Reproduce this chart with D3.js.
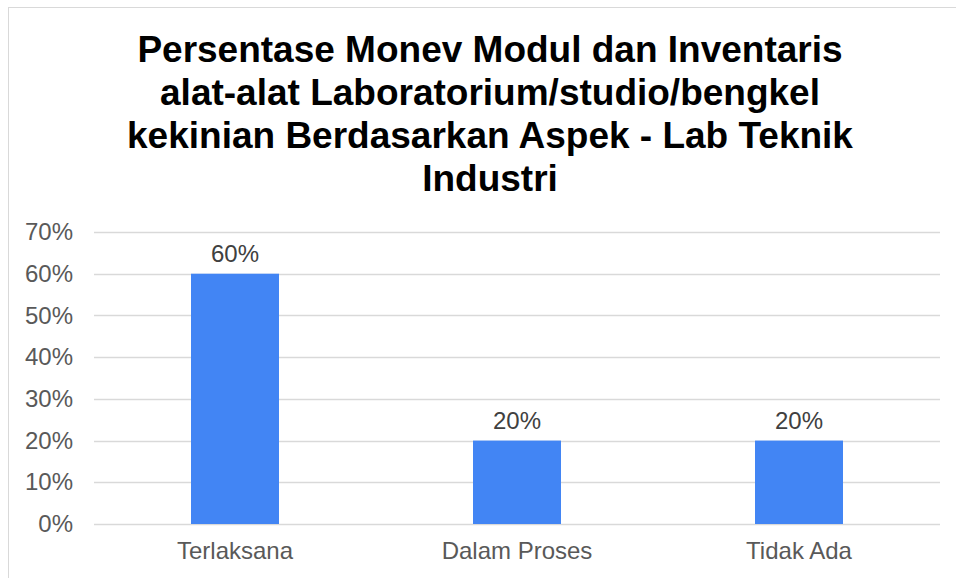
<!DOCTYPE html>
<html>
<head>
<meta charset="utf-8">
<script src="https://cdn.jsdelivr.net/npm/d3@7"></script>
<style>
  body { margin: 0; background: #fff; }
  svg { display: block; font-family: "Liberation Sans", Arial, sans-serif; }
</style>
</head>
<body>
<div id="chart"></div>
<script>
// Data
const categories = ["Terlaksana", "Dalam Proses", "Tidak Ada"];
const values = [0.6, 0.2, 0.2];
const yTicks = [0, 0.1, 0.2, 0.3, 0.4, 0.5, 0.6, 0.7];
const titleLines = [
    "Persentase Monev Modul dan Inventaris",
    "alat-alat Laboratorium/studio/bengkel",
    "kekinian Berdasarkan Aspek - Lab Teknik",
    "Industri"
];

const width = 956, height = 578;
const plot = { left: 94, right: 940, top: 232, bottom: 524 };

const svg = d3.select("#chart").append("svg")
    .attr("width", width)
    .attr("height", height);

// Chart frame (runs off the right/bottom edge)
svg.append("rect")
    .attr("x", 8.5).attr("y", 7.5)
    .attr("width", 1000).attr("height", 1000)
    .attr("fill", "none")
    .attr("stroke", "#d9d9d9")
    .attr("stroke-width", 1);

// Title
svg.append("text")
    .attr("text-anchor", "middle")
    .attr("font-size", "37px")
    .attr("font-weight", "bold")
    .attr("fill", "#000")
    .selectAll("tspan")
    .data(titleLines)
    .enter()
    .append("tspan")
    .attr("x", 490)
    .attr("y", (d, i) => 62 + i * 43)
    .text(d => d);

// Scales
const x = d3.scaleBand()
    .domain(categories)
    .range([plot.left, plot.right])
    .paddingInner(0.688)
    .paddingOuter(0.344);

const y = d3.scaleLinear()
    .domain([0, 0.7])
    .range([plot.bottom, plot.top]);

// Gridlines
svg.append("g")
    .selectAll("line")
    .data(yTicks)
    .enter()
    .append("line")
    .attr("x1", plot.left)
    .attr("x2", plot.right)
    .attr("y1", d => Math.round(y(d)) + 0.5)
    .attr("y2", d => Math.round(y(d)) + 0.5)
    .attr("stroke", "#d9d9d9")
    .attr("stroke-width", 1.5);

// Y axis labels
const yAxis = svg.append("g")
    .attr("transform", `translate(${plot.left - 21},0)`)
    .call(d3.axisLeft(y).tickValues(yTicks).tickFormat(d3.format(".0%")).tickSize(0).tickPadding(0));
yAxis.select(".domain").remove();
yAxis.selectAll("text")
    .attr("font-family", "Liberation Sans, Arial, sans-serif")
    .attr("font-size", "24px")
    .attr("fill", "#595959");

// X axis labels
const xAxis = svg.append("g")
    .attr("transform", `translate(0,${plot.bottom})`)
    .call(d3.axisBottom(x).tickSize(0).tickPadding(18));
xAxis.select(".domain").remove();
xAxis.selectAll("text")
    .attr("font-family", "Liberation Sans, Arial, sans-serif")
    .attr("font-size", "24px")
    .attr("fill", "#595959");

// Bars
svg.append("g")
    .selectAll("rect")
    .data(categories)
    .enter()
    .append("rect")
    .attr("x", d => x(d))
    .attr("y", (d, i) => y(values[i]))
    .attr("width", x.bandwidth())
    .attr("height", (d, i) => plot.bottom - y(values[i]))
    .attr("fill", "#4285f4");

// Data labels
svg.append("g")
    .selectAll("text")
    .data(categories)
    .enter()
    .append("text")
    .attr("x", d => x(d) + x.bandwidth() / 2)
    .attr("y", (d, i) => y(values[i]) - 12)
    .attr("text-anchor", "middle")
    .attr("font-size", "24px")
    .attr("fill", "#404040")
    .text((d, i) => d3.format(".0%")(values[i]));
</script>
</body>
</html>
